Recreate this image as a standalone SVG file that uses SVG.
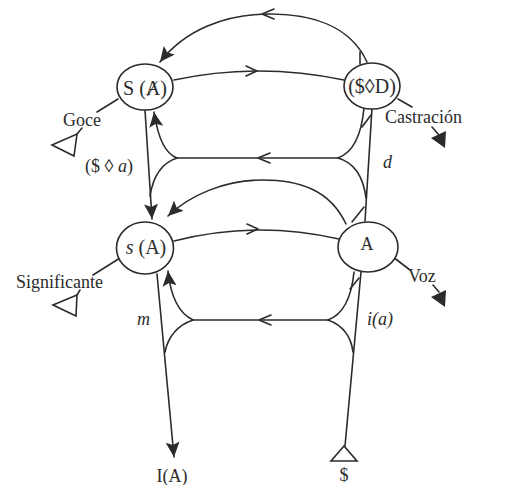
<svg xmlns="http://www.w3.org/2000/svg" width="512" height="485" viewBox="0 0 512 485">
<style>
.ln{fill:none;stroke:#2b2b2b;stroke-width:1.6;stroke-linecap:round;stroke-linejoin:round}
.nd{fill:#fff;stroke:#2b2b2b;stroke-width:1.6}
.t{font-family:"Liberation Serif","DejaVu Serif",serif;fill:#2b2b2b}
.lbl{font-size:18px}
.nl{font-size:20px}
.it{font-style:italic}
.tri{fill:none;stroke:#2b2b2b;stroke-width:1.6;stroke-linejoin:miter}
.fill{fill:#2b2b2b;stroke:none}
</style>
<defs>
<marker id="ah" markerUnits="userSpaceOnUse" markerWidth="16" markerHeight="16" viewBox="0 0 16 16" refX="15" refY="8" orient="auto">
<path d="M0,1 L15,8 L0,15 L3,8 z" fill="#2b2b2b"/>
</marker>
</defs>
<rect width="512" height="485" fill="#fff"/>
<g id="connectors">
<!-- top arc -->
<path class="ln" d="M367,62 C350,25 310,14 270,14 C225,14 185,30 160,62" marker-end="url(#ah)"/>
<path class="ln" d="M360,52 L360,64"/>
<polyline class="ln" points="274,9 262,14 274,19"/>
<!-- upper middle line -->
<path class="ln" d="M174,80 Q258,62 344,80"/>
<polyline class="ln" points="246,66 257,71 246,76"/>
<!-- left vertical upper -->
<path class="ln" d="M145,110 L152,219" marker-end="url(#ah)"/>
<!-- right vertical upper -->
<path class="ln" d="M372,108 L365,221"/>
<!-- upper loop -->
<path class="ln" d="M177,158 L338,158"/>
<polyline class="ln" points="270,153 258,158 270,163"/>
<path class="ln" d="M177,158 Q160,152 154,112" marker-end="url(#ah)"/>
<path class="ln" d="M177,158 Q155,165 150,196"/>
<path class="ln" d="M338,158 Q360,150 364,108"/>
<path class="ln" d="M362,127 L371,115"/>
<path class="ln" d="M338,158 Q362,165 366,198"/>
<!-- second arc -->
<path class="ln" d="M346,224 C330,190 300,180 262,180 C225,180 190,195 168,216" marker-end="url(#ah)"/>
<path class="ln" d="M352,222 L364,207"/>
<!-- lower middle line -->
<path class="ln" d="M174,241 Q256,220 339,239"/>
<polyline class="ln" points="247,224 258,229 247,234"/>
<!-- left vertical lower -->
<path class="ln" d="M157,274 L174,457" marker-end="url(#ah)"/>
<!-- right vertical lower -->
<path class="ln" d="M361,272 L345,446"/>
<!-- lower loop -->
<path class="ln" d="M193,320 L328,320"/>
<polyline class="ln" points="271,315 259,320 271,325"/>
<path class="ln" d="M193,320 Q172,310 168,271" marker-end="url(#ah)"/>
<path class="ln" d="M193,320 Q170,328 165,352"/>
<path class="ln" d="M328,320 Q350,312 354,272"/>
<path class="ln" d="M350,289 L359,278"/>
<path class="ln" d="M328,320 Q350,328 353,352"/>
<!-- label ticks -->
<path class="ln" d="M118,99 L97,112"/>
<path class="ln" d="M398,99 L412,107"/>
<path class="ln" d="M120,258 L93,275"/>
<path class="ln" d="M393,257 L410,270"/>
</g>
<g id="node-SA">
<ellipse class="nd" cx="145" cy="87" rx="28" ry="23"/>
<text class="t nl" x="145" y="95" text-anchor="middle">S (Ⱥ)</text>
</g>
<g id="node-SD">
<ellipse class="nd" cx="372" cy="86" rx="28" ry="23"/>
<text class="t nl" x="372" y="93" text-anchor="middle">($◊D)</text>
</g>
<g id="node-sA">
<ellipse class="nd" cx="145" cy="248" rx="28.5" ry="26"/>
<text class="t nl" x="146" y="254" text-anchor="middle"><tspan class="it">s</tspan> (A)</text>
</g>
<g id="node-A">
<ellipse class="nd" cx="368" cy="247" rx="30" ry="25"/>
<text class="t" x="367" y="250" font-size="18" text-anchor="middle">A</text>
</g>
<g id="goce">
<text class="t lbl" x="63" y="126">Goce</text>
<path class="ln" d="M77,134 L82,128"/>
<polygon class="tri" points="52,145 77,134 74,156"/>
</g>
<g id="castracion">
<text class="t lbl" x="385" y="123">Castración</text>
<path class="ln" d="M432,127 L439,135"/>
<polygon class="fill" points="431,138 446,131 445,148"/>
</g>
<g id="significante">
<text class="t lbl" x="16" y="288">Significante</text>
<path class="ln" d="M77,295 L80,290"/>
<polygon class="tri" points="53,305 77,295 76,316"/>
</g>
<g id="voz">
<text class="t lbl" x="408" y="282">Voz</text>
<path class="ln" d="M433,285 L439,292"/>
<polygon class="fill" points="431,297 446,290 445,307"/>
</g>
<g id="labels">
<text class="t lbl" x="85" y="172">(<tspan>$</tspan> ◊ <tspan class="it">a</tspan>)</text>
<text class="t lbl it" x="383" y="168">d</text>
<text class="t lbl it" x="137" y="325">m</text>
<text class="t lbl it" x="367" y="325">i(a)</text>
<text class="t lbl" x="172" y="482" text-anchor="middle">I(A)</text>
<text class="t lbl" x="344" y="481" text-anchor="middle">$</text>
</g>
<g id="node-S-barred">
<polygon class="tri" points="344,446 331,461 357,461"/>
</g>
</svg>
